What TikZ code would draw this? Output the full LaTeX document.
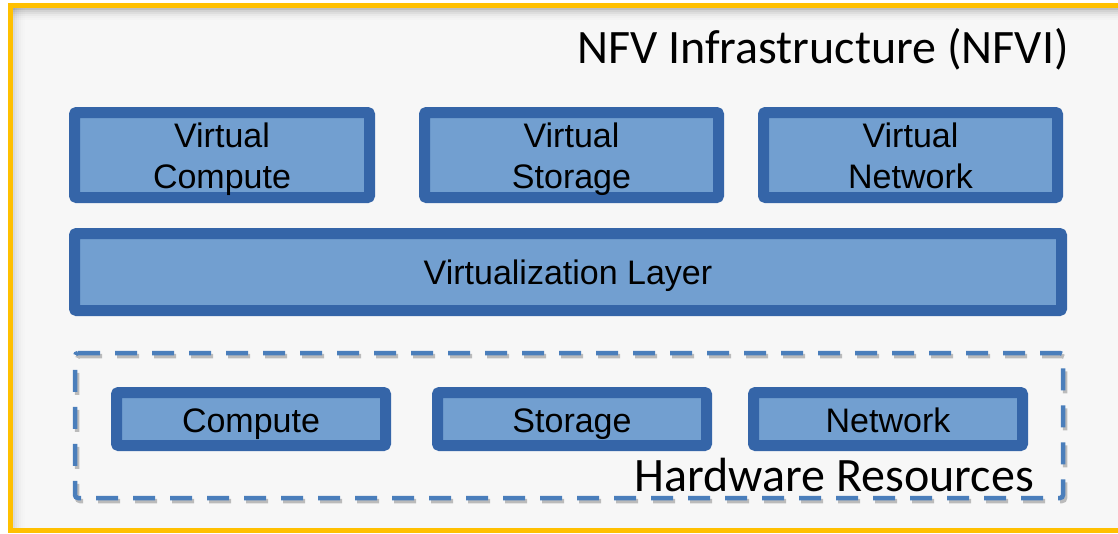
\documentclass[tikz,border=0pt]{standalone}
\usepackage{fontspec}
\setmainfont{Liberation Sans}
\newfontfamily\titlefont{Carlito}
\definecolor{gold}{HTML}{FFC000}
\definecolor{darkblue}{HTML}{3565A8}
\definecolor{lightblue}{HTML}{729FD0}
\definecolor{dashblue}{HTML}{4A7EBB}
\definecolor{panel}{HTML}{F7F7F7}
\tikzset{
  bluebox/.style={draw=darkblue, fill=lightblue, line width=11pt, rounded corners=1pt,
    line join=round, inner sep=0pt, outer sep=0pt},
  boxtext/.style={inner sep=0pt, anchor=base, font=\fontsize{34}{41}\selectfont},
  bigtext/.style={inner sep=0pt, font=\titlefont\fontsize{48}{56}\selectfont, anchor=base east},
  hwdash/.style={line width=4.5pt, dash pattern=on 22pt off 15pt, rounded corners=3pt}
}
\begin{document}
\begin{tikzpicture}[x=1pt,y=-1pt]
\useasboundingbox (0,0) rectangle (1118,533);
\fill[white] (0,0) rectangle (1118,533);
% outer frame
\begin{scope}
\clip (0,0) rectangle (1118,533);
\fill[panel] (10.5,5.5) rectangle (1122,530.5);
\foreach \i/\op in {0/0.22,2/0.15,4/0.10,6/0.06,8/0.03,10/0.015}{
  \fill[black,opacity=\op] (13,8+\i) rectangle (1122,10+\i);
  \fill[black,opacity=\op*0.5] (13+\i,8) rectangle (15+\i,528);
}
\draw[gold, line width=5pt] (10.5,5.5) rectangle (1122,530.5);
\end{scope}
\node[bigtext] (nfvi) at (1069,63) {NFV Infrastructure (NFVI)};
% virtual boxes
\node[bluebox, minimum width=295pt, minimum height=85pt] (vc) at (222,155) {};
\node[bluebox, minimum width=294pt, minimum height=85pt] (vs) at (571.5,155) {};
\node[bluebox, minimum width=294pt, minimum height=85pt] (vn) at (910.5,155) {};
\node[bluebox, minimum width=987pt, minimum height=77pt] (vl) at (568,272) {};
\node[boxtext] (vc1) at (222,147) {Virtual};
\node[boxtext] (vc2) at (222,188) {Compute};
\node[boxtext] (vs1) at (571.5,147) {Virtual};
\node[boxtext] (vs2) at (571.5,188) {Storage};
\node[boxtext] (vn1) at (910.5,147) {Virtual};
\node[boxtext] (vn2) at (910.5,188) {Network};
\node[boxtext] (vlt) at (568,284) {Virtualization Layer};
% hardware dashed box
\begin{scope}[shift={(2,3)}]
\draw[hwdash, black!50, opacity=0.5] (75,353) -- (1063,353) -- (1063,498) -- (75,498) -- cycle;
\end{scope}
\draw[hwdash, dashblue] (75,353) -- (1063,353) -- (1063,498) -- (75,498) -- cycle;
\node[bluebox, minimum width=269pt, minimum height=53pt] (cp) at (251,419) {};
\node[bluebox, minimum width=269pt, minimum height=53pt] (st) at (572,419) {};
\node[bluebox, minimum width=269pt, minimum height=53pt] (nw) at (888,419) {};
\node[boxtext] (cpt) at (251,432) {Compute};
\node[boxtext] (stt) at (572,432) {Storage};
\node[boxtext] (nwt) at (888,432) {Network};
\node[bigtext] (hw) at (1034,491) {Hardware Resources};
\end{tikzpicture}
\end{document}
